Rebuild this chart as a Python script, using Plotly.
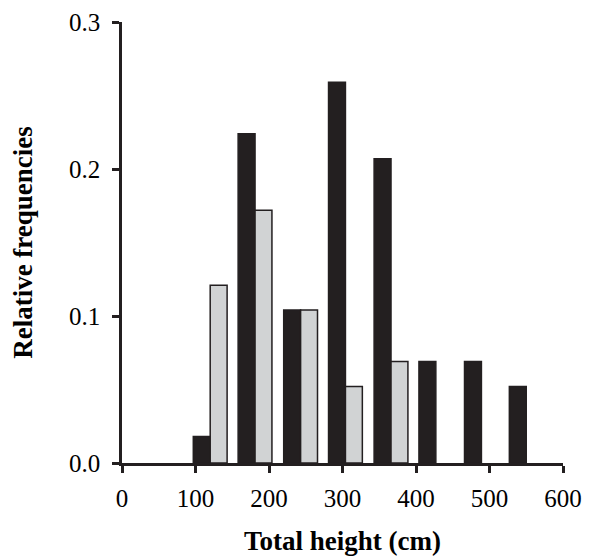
import plotly.graph_objects as go

# Height classes (class midpoints, cm)
class_mid = [120, 181, 243, 304, 366, 427, 489, 550]
# Relative frequencies
series_a = [0.018, 0.224, 0.104, 0.259, 0.207, 0.069, 0.069, 0.052]   # black bars
series_b = [0.121, 0.172, 0.104, 0.052, 0.069, None, None, None]      # grey bars

x_ticks = [0, 100, 200, 300, 400, 500, 600]
y_ticks = [0.0, 0.1, 0.2, 0.3]
y_tick_labels = ["0.0", "0.1", "0.2", "0.3"]

BLACK = "#231f20"
GREY = "#d1d3d4"
FONT = "Liberation Serif, Times New Roman, serif"

fig = go.Figure()
fig.add_trace(go.Bar(
    x=class_mid, y=series_a, width=23, offset=-23,
    marker=dict(color=BLACK, line=dict(color=BLACK, width=1.5)),
    showlegend=False,
))
fig.add_trace(go.Bar(
    x=class_mid, y=series_b, width=23, offset=0,
    marker=dict(color=GREY, line=dict(color=BLACK, width=1.5)),
    showlegend=False,
))

# page body has an 8px default margin, so the figure is sized to fit after it
fig.update_layout(
    width=586, height=548,
    margin=dict(l=114, r=31, t=14, b=93),
    paper_bgcolor="white", plot_bgcolor="white",
    font=dict(family=FONT, size=25, color="black"),
    barmode="overlay",
)
fig.update_xaxes(
    range=[0, 600], tickvals=x_ticks, ticktext=[str(v) for v in x_ticks],
    showline=True, linecolor=BLACK, linewidth=2.5,
    ticks="outside", ticklen=7, tickwidth=2.5, tickcolor=BLACK,
    ticklabelstandoff=4,
    showgrid=False, zeroline=False, automargin=False,
    title=dict(text="<b>Total height (cm)</b>", font=dict(size=27, family=FONT), standoff=27),
)
fig.update_yaxes(
    range=[0, 0.3], tickvals=y_ticks, ticktext=y_tick_labels,
    showline=True, linecolor=BLACK, linewidth=2.5,
    ticks="outside", ticklen=7, tickwidth=2.5, tickcolor=BLACK,
    ticklabelstandoff=7,
    showgrid=False, zeroline=False, automargin=False,
    title=dict(text="<b>Relative frequencies</b>", font=dict(size=27, family=FONT), standoff=32),
)

fig.write_html("out.html")
